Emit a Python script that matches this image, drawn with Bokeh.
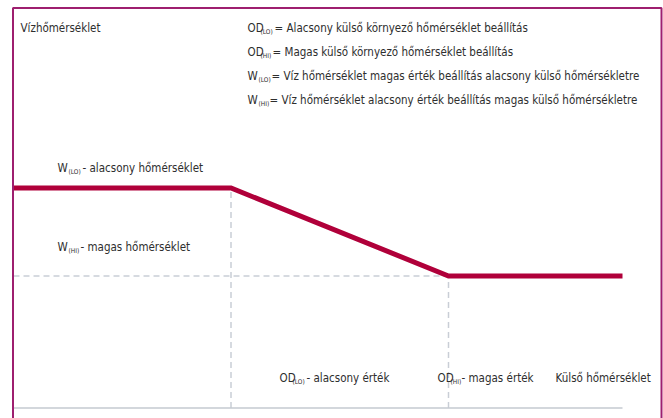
from bokeh.plotting import figure
from bokeh.models import Range1d, Label, BoxAnnotation
from bokeh.embed import file_html
from bokeh.resources import INLINE

# ---- data (abstract units) ----
outdoor = [0.0, 1.0, 2.0, 2.8]          # outdoor temperature axis points
water = [2.5, 2.5, 1.5, 1.5]            # water temperature setpoint curve
od_lo = 1.0
od_hi = 2.0
w_lo = 2.5
w_hi = 1.5
base = 0.0
x_end = 2.8

RED = "#b0003a"
GRID = "#c9ced6"
BORDER = "#9e1f6f"
TXT = "#2e2e2e"
FONT = "DejaVu Sans Condensed, Roboto, sans-serif"

W, H = 663, 418
FL = 10          # frame left offset in px
FT = 5           # frame top offset in px
PX_X = 217.5     # px per x unit
PX_Y = 88.0      # px per y unit
X0 = -(13 - FL) / PX_X
X1 = (W - 13) / PX_X
Y1 = (407.5 - FT) / PX_Y
Y0 = -(H - 407.5) / PX_Y
p = figure(width=W, height=H, output_backend="svg", toolbar_location=None,
           x_range=Range1d(X0, X1), y_range=Range1d(Y0, Y1),
           min_border_left=FL, min_border_right=0, min_border_top=FT, min_border_bottom=0)
p.axis.visible = False
p.grid.visible = False
p.outline_line_color = None
p.background_fill_color = "white"
p.border_fill_color = "white"

# guides
p.line([od_lo, od_lo], [base, w_lo], line_color=GRID, line_width=1.5, line_dash="6 4")
p.line([od_hi, od_hi], [base, w_hi], line_color=GRID, line_width=1.5, line_dash="6 4")
p.line([outdoor[0], od_hi], [w_hi, w_hi], line_color=GRID, line_width=1.5, line_dash="6 4")
p.line([outdoor[0], x_end], [base, base], line_color="#c5cad1", line_width=1.5)

# curve
p.line(outdoor, water, line_color=RED, line_width=5, line_join="miter")

# frame border (left, right, top; bottom is outside the window)
p.add_layout(BoxAnnotation(left=X0 + 2.5 / PX_X, right=X1 - 2.0 / PX_X,
                           top=Y1 - 2.5 / PX_Y, bottom=Y0 - 1.0,
                           fill_color=None, fill_alpha=0,
                           line_color=BORDER, line_width=2, line_alpha=1))


def put(parts, y_page):
    for txt, x_page, size, dy in parts:
        p.add_layout(Label(x=x_page - FL, y=H - (y_page + dy), x_units="screen", y_units="screen",
                           text=txt, text_font=FONT, text_font_size=size, text_color=TXT,
                           text_baseline="middle", text_align="left"))


M = "11.5px"
S = "6.5px"
put([("Vízhőmérséklet", 20, M, 0)], 27)
put([("OD", 247, M, 0), ("(LO)", 260, S, 4), ("= Alacsony külső környező hőmérséklet beállítás", 274, M, 0)], 27)
put([("OD", 247, M, 0), ("(HI)", 260, S, 4), ("= Magas külső környező hőmérséklet beállítás", 272, M, 0)], 51)
put([("W", 247, M, 0), ("(LO)", 258, S, 4), ("= Víz hőmérséklet magas érték beállítás alacsony külső hőmérsékletre", 271, M, 0)], 75)
put([("W", 247, M, 0), ("(HI)", 258, S, 4), ("= Víz hőmérséklet alacsony érték beállítás magas külső hőmérsékletre", 269, M, 0)], 99)

put([("W", 57, M, 0), ("(LO)", 68, S, 4), ("- alacsony hőmérséklet", 82, M, 0)], 167)
put([("W", 57, M, 0), ("(HI)", 68, S, 4), ("- magas hőmérséklet", 80, M, 0)], 246)
put([("OD", 279, M, 0), ("(LO)", 292, S, 4), ("- alacsony érték", 306, M, 0)], 377)
put([("OD", 437, M, 0), ("(HI)", 450, S, 4), ("- magas érték", 461, M, 0)], 377)
put([("Külső hőmérséklet", 555, M, 0)], 377)

open("out.html", "w").write(file_html(p, INLINE))
